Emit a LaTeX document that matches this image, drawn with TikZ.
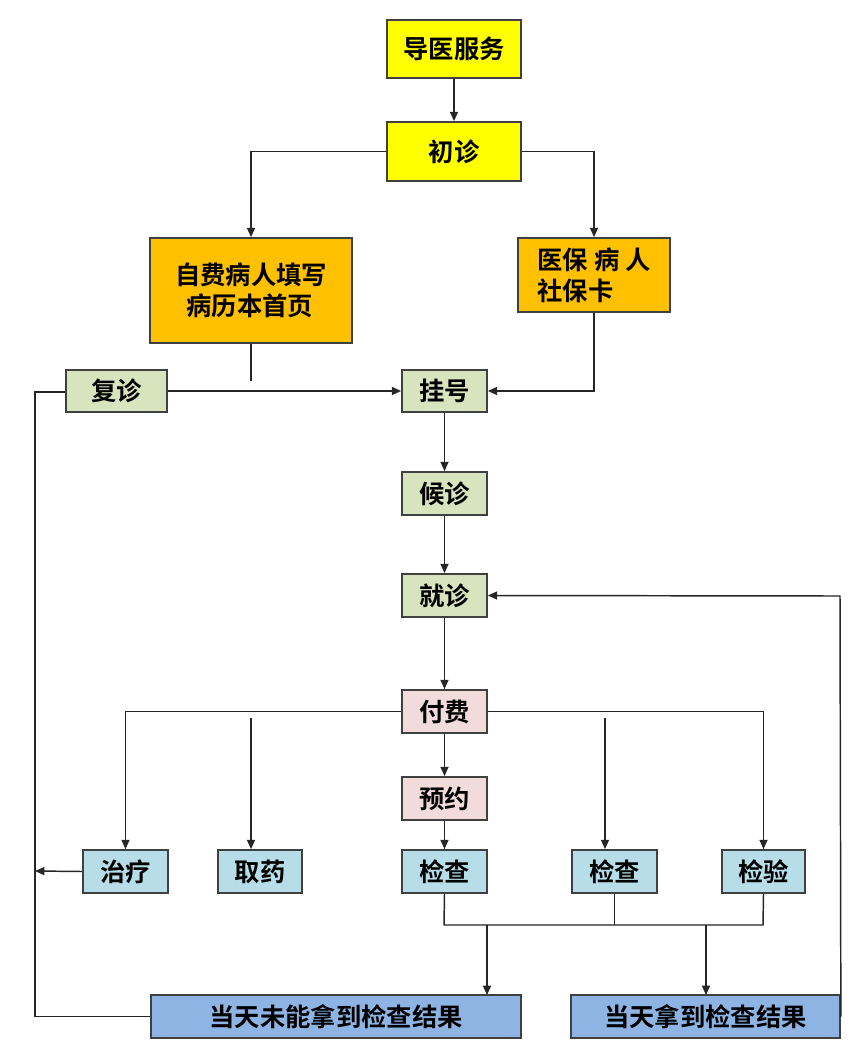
\documentclass[tikz,border=0pt]{standalone}
\usepackage{fontspec}
\newfontfamily\cjk{Noto Sans CJK SC Bold}
\usetikzlibrary{arrows.meta}
\definecolor{cy}{HTML}{FFFF00}
\definecolor{co}{HTML}{FFC000}
\definecolor{cg}{HTML}{D7E4BD}
\definecolor{cp}{HTML}{F2DCDB}
\definecolor{cb}{HTML}{B7DEE8}
\definecolor{cd}{HTML}{8EB4E3}
\tikzset{
  box/.style={draw=black!75, line width=1.3pt, font=\cjk\fontsize{19}{23}\selectfont, align=left, inner sep=0pt},
  ln/.style={line width=1.1pt, black!85},
  ar/.style={ln, -{Triangle[length=7pt,width=6pt]}},
}
\newcommand\bx[7]{\node[box, fill=#6, minimum width=#3*0.75pt-#1*0.75pt, minimum height=#4*0.75pt-#2*0.75pt] (#5) at ({(#1+#3)/2*0.75pt},{-(#2+#4)/2*0.75pt}) {#7};}
\begin{document}
\begin{tikzpicture}[x=0.75pt,y=-0.75pt]
\useasboundingbox (0,0) rectangle (865,1053);
\fill[white] (0,0) rectangle (865,1053);
\bx{387}{20}{521}{78}{a}{cy}{导医服务}
\bx{387}{122}{521}{181}{b}{cy}{初诊}
\bx{150}{238}{352}{343}{c}{co}{自费病人填写\\\ \ 病历本首页}
\bx{518}{238}{670}{312}{d}{co}{医保 病 人\\社保卡}
\bx{66}{370}{167}{412}{e}{cg}{复诊}
\bx{402}{370}{487}{412}{f}{cg}{挂号}
\bx{402}{472}{487}{515}{g}{cg}{候诊}
\bx{402}{574}{487}{617}{h}{cg}{就诊}
\bx{402}{690}{487}{733}{i}{cp}{付费}
\bx{402}{777}{487}{820}{j}{cp}{预约}
\bx{83}{850}{168}{893}{k}{cb}{治疗}
\bx{218}{850}{302}{893}{l}{cb}{取药}
\bx{402}{850}{487}{893}{m}{cb}{检查}
\bx{572}{850}{657}{893}{n}{cb}{检查}
\bx{722}{850}{805}{893}{o}{cb}{检验}
\bx{151}{995}{521}{1038}{p}{cd}{当天未能拿到检查结果}
\bx{571}{995}{840}{1038}{q}{cd}{当天拿到检查结果}
\draw[ar] (a) -- (b);
\draw[ar] (b.west) -| (c.north);
\draw[ar] (b.east) -| (d.north);
\draw[ar] (e.east) -- (f.west);
\coordinate (c1) at (251,381);
\draw[ln] (c.south -| c1) -- (c1);
\draw[ar] (d.south) |- (f.east);
\draw[ar] (f) -- (g);
\draw[ar] (g) -- (h);
\draw[ar] (h) -- (i);
\draw[ar] (i) -- (j);
\draw[ar] (j) -- (m);
\draw[ar] (i.west) -| (k.north);
\draw[ar] (i.east) -| (o.north);
\coordinate (t1) at (251,718);
\coordinate (t2) at (605,718);
\draw[ar] (t1) -- (t1 |- l.north);
\draw[ar] (t2) -- (t2 |- n.north);
\coordinate (lx) at (35,871);
\draw[ar] (k.west) -- (lx);
\coordinate (ly) at (35,392);
\draw[ln] (p.west) -| (ly) -- (ly -| e.west);
\coordinate (j1) at (444,925);
\coordinate (j2) at (763,925);
\draw[ln] (m.south) -- (j1) -- (j2) -- (o.south);
\draw[ln] (n.south) -- (n.south |- j1);
\draw[ar] (487,925) -- (487,995);
\draw[ar] (706,925) -- (706,995);
\draw[ar] (q.east) -- (840,596) -- (h.east);
\end{tikzpicture}
\end{document}
